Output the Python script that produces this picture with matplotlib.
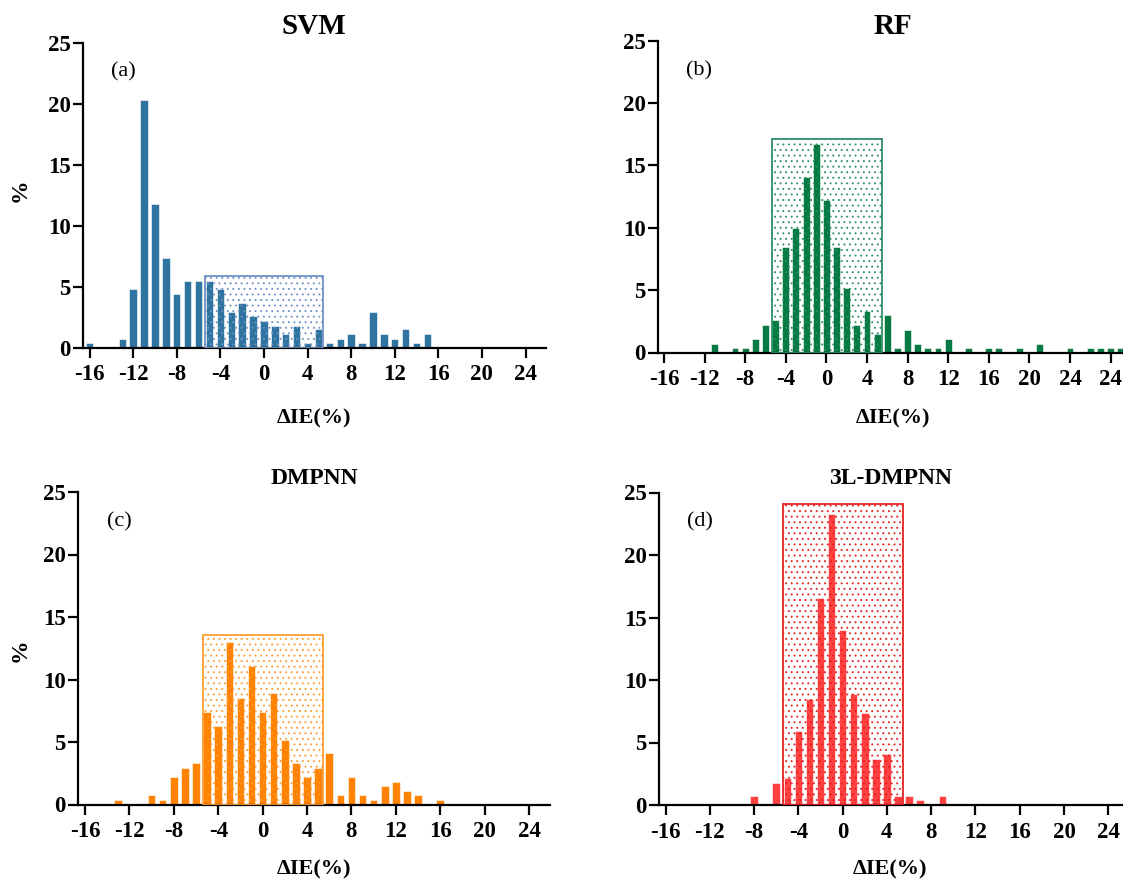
import matplotlib
matplotlib.use("Agg")
import matplotlib.pyplot as plt
from matplotlib.patches import Rectangle

plt.rcParams['font.family'] = ['Liberation Serif', 'DejaVu Serif']
plt.rcParams['hatch.linewidth'] = 0.7

# ---------------- data ----------------
svm_x = [-16, -13, -12, -11, -10, -9, -8, -7, -6, -5, -4, -3, -2, -1, 0, 1, 2, 3, 4, 5,
         6, 7, 8, 9, 10, 11, 12, 13, 14, 15]
svm_v = [0.37, 0.74, 4.8, 20.3, 11.8, 7.4, 4.4, 5.5, 5.5, 5.5, 4.8, 2.9, 3.7, 2.6, 2.2, 1.8,
         1.1, 1.8, 0.37, 1.5, 0.37, 0.74, 1.1, 0.37, 2.9, 1.1, 0.74, 1.5, 0.37, 1.1]

rf_x = [-11, -9, -8, -7, -6, -5, -4, -3, -2, -1, 0, 1, 2, 3, 4, 5, 6, 7, 8, 9, 10, 11, 12,
        14, 16, 17, 19, 21, 24, 26, 27, 28, 29]
rf_v = [0.7, 0.35, 0.35, 1.1, 2.2, 2.6, 8.5, 10.0, 14.1, 16.7, 12.2, 8.5, 5.2, 2.2, 3.3, 1.5,
        3.0, 0.35, 1.8, 0.7, 0.35, 0.35, 1.05, 0.35, 0.35, 0.35, 0.35, 0.7, 0.35, 0.35, 0.35,
        0.35, 0.35]

dmpnn_x = [-13, -10, -9, -8, -7, -6, -5, -4, -3, -2, -1, 0, 1, 2, 3, 4, 5, 6, 7, 8, 9, 10,
           11, 12, 13, 14, 16]
dmpnn_v = [0.37, 0.74, 0.37, 2.2, 2.9, 3.3, 7.4, 6.3, 13.0, 8.5, 11.1, 7.4, 8.9, 5.2, 3.3,
           2.2, 2.9, 4.1, 0.74, 2.2, 0.74, 0.37, 1.5, 1.8, 1.1, 0.74, 0.37]

l3_x = [-8, -6, -5, -4, -3, -2, -1, 0, 1, 2, 3, 4, 5, 6, 7, 9]
l3_v = [0.74, 1.8, 2.2, 5.9, 8.5, 16.6, 23.3, 14.0, 8.9, 7.4, 3.7, 4.1, 0.74, 0.74, 0.37, 0.74]

titles = ["SVM", "RF", "DMPNN", "3L-DMPNN"]
panel_tags = ["(a)", "(b)", "(c)", "(d)"]
box_range = (-5.4, 5.45)
box_tops = [5.9, 17.1, 13.6, 24.1]

xticks_main = [-16, -12, -8, -4, 0, 4, 8, 12, 16, 20, 24]
xticklabels_main = [str(t) for t in xticks_main]
xticks_rf = xticks_main + [28]
xticklabels_rf = xticklabels_main + ["24"]
yticks = [0, 5, 10, 15, 20, 25]

# ---------------- style ----------------
bar_colors = ["#2f74a0", "#057a42", "#ff8200", "#ff4040"]
box_colors = ["#6d8fc2", "#2b8c62", "#ff9a2e", "#e51e1e"]

W, H = 1123, 881
fig = plt.figure(figsize=(W / 100, H / 100), dpi=100)

# pixel boxes: left, right, y(bottom), y(top)
boxes_px = [(83, 545.7, 347.7, 43),
            (658.3, 1125.8, 352.5, 40.8),
            (78.3, 549.6, 804.5, 492),
            (658.9, 1121.6, 805, 492.5)]
xlims = [(-16.6, 25.85), (-16.56, 29.5), (-16.6, 25.85), (-16.6, 25.2)]

datasets = [(svm_x, svm_v), (rf_x, rf_v), (dmpnn_x, dmpnn_v), (l3_x, l3_v)]

for i, ((l, r, yb, yt), (xs, vs)) in enumerate(zip(boxes_px, datasets)):
    ax = fig.add_axes([l / W, 1 - yb / H, (r - l) / W, (yb - yt) / H])
    ax.bar(xs, vs, width=0.68, color=bar_colors[i], edgecolor="white", linewidth=0.4, zorder=2)
    rect = Rectangle((box_range[0], 0), box_range[1] - box_range[0], box_tops[i],
                     fill=False, hatch="...", edgecolor=box_colors[i], linewidth=1.4,
                     zorder=3, alpha=0.9)
    ax.add_patch(rect)
    ax.set_xlim(*xlims[i])
    ax.set_ylim(0, 25)
    if i == 1:
        ax.set_xticks(xticks_rf)
        ax.set_xticklabels(xticklabels_rf)
    else:
        ax.set_xticks(xticks_main)
        ax.set_xticklabels(xticklabels_main)
    ax.set_yticks(yticks)
    for s in ["top", "right"]:
        ax.spines[s].set_visible(False)
    for s in ["left", "bottom"]:
        ax.spines[s].set_linewidth(1.6)
        ax.spines[s].set_clip_on(False)
    ax.tick_params(axis="both", direction="out", length=7, width=1.6, labelsize=16.5, pad=2)
    ax.tick_params(axis="x", pad=5)
    for lab in ax.get_xticklabels() + ax.get_yticklabels():
        lab.set_fontweight("bold")
    ax.text(0.06, 0.905, panel_tags[i], transform=ax.transAxes, fontsize=16,
            ha="left", va="center")
    cx = (l + r) / 2
    if i == 1:
        cx = 893
    ty = 27 if i < 2 else 478
    fig.text(cx / W, 1 - ty / H, titles[i], ha="center", va="center",
             fontsize=21 if i < 2 else 17, fontweight="bold")
    ly = 418 if i < 2 else 869
    fig.text(cx / W, 1 - ly / H, "ΔIE(%)", ha="center", va="center",
             fontsize=16, fontweight="bold")

fig.text(20 / W, 1 - 190 / H, "%", rotation=90, ha="center", va="center",
         fontsize=17, fontweight="bold")
fig.text(20 / W, 1 - 650 / H, "%", rotation=90, ha="center", va="center",
         fontsize=17, fontweight="bold")

fig.savefig("out.png", dpi=100)
